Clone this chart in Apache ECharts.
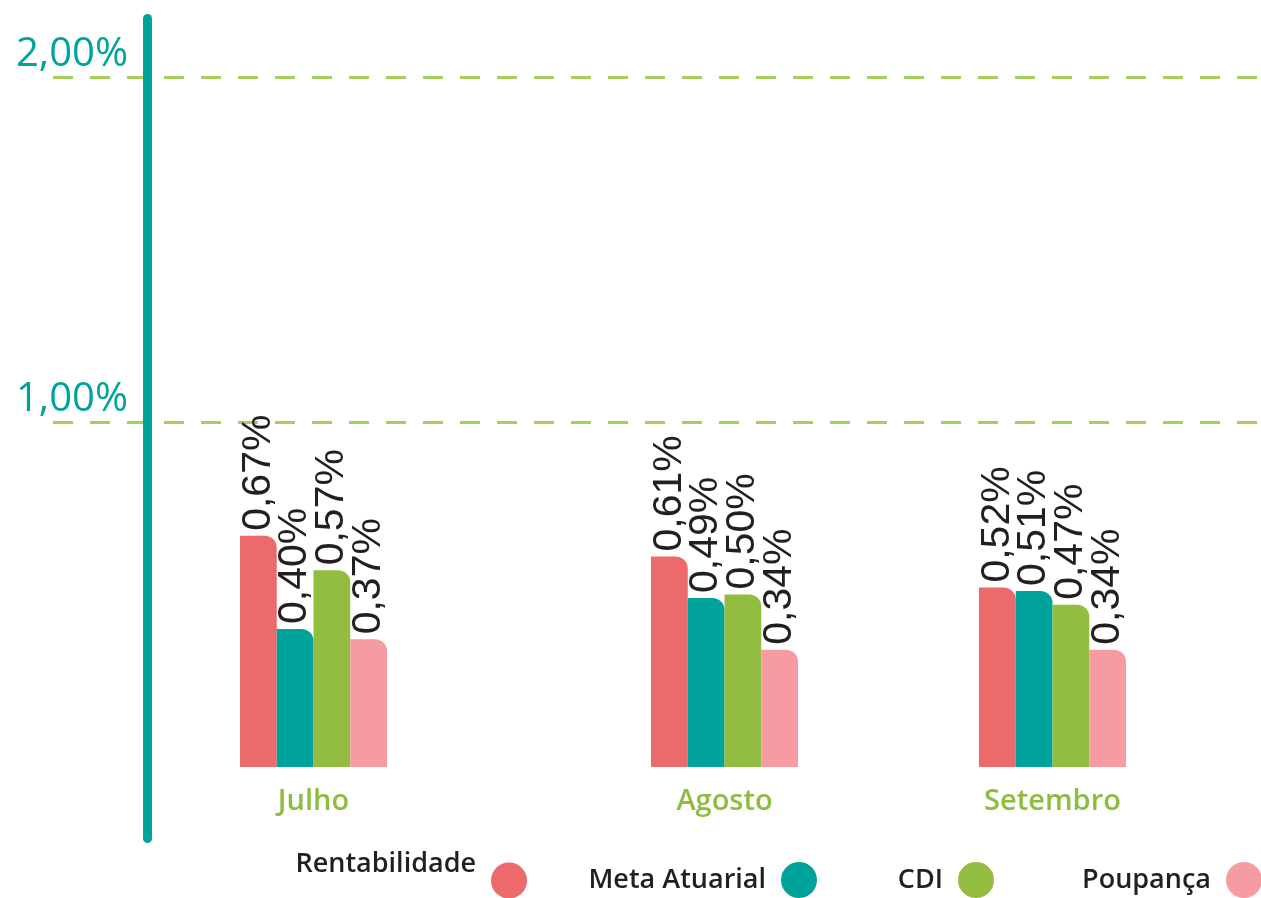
<!DOCTYPE html>
<html>
<head>
<meta charset="utf-8">
<script src="https://cdn.jsdelivr.net/npm/echarts@6/dist/echarts.min.js"></script>
<style>html,body{margin:0;padding:0;background:#fff;}#c{width:1261px;height:898px;}</style>
</head>
<body>
<div id="c"></div>
<script>
// ---- data ----
const categories = ['Julho', 'Agosto', 'Setembro'];
const seriesNames = ['Rentabilidade', 'Meta Atuarial', 'CDI', 'Poupança'];
const rentabilidade = [0.67, 0.61, 0.52];
const metaAtuarial = [0.40, 0.49, 0.51];
const cdi = [0.57, 0.50, 0.47];
const poupanca = [0.37, 0.34, 0.34];
const yTicks = [0, 1, 2];

// ---- styling / layout ----
const colors = ['#ec6a6c', '#00a39b', '#92bd40', '#f59ba1'];
const groupLeft = [240, 651, 979];
const groupWidth = 147;
const legendRight = [734, 444, 267, -1];
const legendTop = [851, 862, 862, 862];
const fmt = v => v.toFixed(2).replace('.', ',') + '%';
const values = [rentabilidade, metaAtuarial, cdi, poupanca];

const chart = echarts.init(document.getElementById('c'), null, {renderer: 'canvas'});

const grid = [
  {left: 53, right: 0, top: 77, bottom: 131},
  {left: 147.5, width: 1, top: 18.5, bottom: 59.5},
];
const xAxis = [
  {gridIndex: 0, type: 'value', show: false, min: 0, max: 1},
  {gridIndex: 1, type: 'value', show: false, min: 0, max: 1},
];
const yAxis = [
  {
    gridIndex: 0, type: 'value', min: yTicks[0], max: yTicks[yTicks.length - 1], interval: 1,
    axisLine: {show: false}, axisTick: {show: false},
    axisLabel: {
      inside: true, margin: 75, align: 'right', verticalAlign: 'bottom',
      showMinLabel: false,
      formatter: v => fmt(v),
      color: '#00a39b', fontFamily: 'Open Sans', fontWeight: 400, fontSize: 40, padding: [0, 0, 2, 0]
    },
    splitLine: {show: true, lineStyle: {color: ['rgba(0,0,0,0)', '#a6cf5b', '#a6cf5b'], width: 3, type: [20, 17]}}
  },
  {
    gridIndex: 1, type: 'value', min: 0, max: 1,
    axisLine: {show: true, lineStyle: {color: '#00a39b', width: 9, cap: 'round'}},
    axisTick: {show: false}, axisLabel: {show: false}, splitLine: {show: false}
  },
];
const series = [];
categories.forEach((cat, g) => {
  grid.push({left: groupLeft[g], width: groupWidth, top: 77, bottom: 131});
  xAxis.push({
    gridIndex: g + 2, type: 'category', data: [cat],
    axisLine: {show: false}, axisTick: {show: false},
    axisLabel: {margin: 20, color: '#8dbd3e', fontFamily: 'Open Sans', fontWeight: 600, fontSize: 29}
  });
  yAxis.push({gridIndex: g + 2, type: 'value', min: 0, max: 2, show: false, splitLine: {show: false}});
  seriesNames.forEach((name, s) => {
    series.push({
      type: 'bar', name: name,
      xAxisIndex: g + 2, yAxisIndex: g + 2,
      data: [values[s][g]],
      barGap: 0, barCategoryGap: 0,
      itemStyle: {color: colors[s], borderRadius: [0, 12, 0, 0]},
      label: {
        show: true, position: 'top', rotate: 90, align: 'left', verticalAlign: 'middle', distance: 5,
        formatter: p => fmt(p.value),
        color: '#231f20', fontFamily: 'Liberation Sans', fontWeight: 400, fontSize: 41
      }
    });
  });
});

const legend = seriesNames.map((name, i) => ({
  data: [name], right: legendRight[i], top: legendTop[i], padding: 0,
  align: 'right', icon: 'circle', itemWidth: 36, itemHeight: 36, itemGap: 0,
  selectedMode: false,
  formatter: n => '{t|' + n + '}',
  textStyle: {
    rich: {
      t: {
        fontFamily: 'Open Sans', fontWeight: 600, fontSize: 27, color: '#231f20',
        padding: i === 0 ? [0, 10, 32, 0] : [0, 10, 0, 0]
      }
    }
  }
}));

chart.setOption({
  animation: false,
  color: colors,
  grid, xAxis, yAxis, series, legend
});
</script>
</body>
</html>
